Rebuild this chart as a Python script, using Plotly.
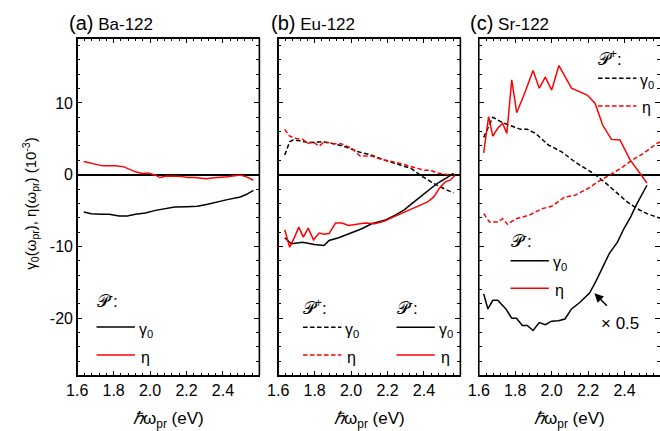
import plotly.graph_objects as go

# ---------------- data ----------------
# (a) Ba-122, P^- curves
ba_x_g = [1.636, 1.678, 1.73, 1.776, 1.83, 1.875, 1.92, 1.974, 2.03, 2.082, 2.135, 2.2, 2.26, 2.316, 2.388, 2.424, 2.495, 2.53, 2.567]
ba_g = [-5.2, -5.43, -5.52, -5.52, -5.76, -5.76, -5.52, -5.34, -4.97, -4.73, -4.5, -4.45, -4.4, -4.13, -3.66, -3.47, -3.1, -2.73, -2.17]
ba_x_e = [1.636, 1.686, 1.74, 1.81, 1.857, 1.92, 1.956, 1.99, 2.03, 2.055, 2.09, 2.154, 2.21, 2.244, 2.307, 2.352, 2.424, 2.495, 2.53, 2.567]
ba_e = [1.85, 1.57, 1.23, 1.23, 1.09, 0.4, 0.17, 0.25, -0.07, -0.4, -0.17, -0.2, -0.4, -0.4, -0.58, -0.44, -0.3, -0.03, -0.3, -0.77]

# (b) Eu-122
eu_x_gp = [1.636, 1.663, 1.681, 1.717, 1.77, 1.843, 1.897, 1.969, 2.04, 2.113, 2.184, 2.256, 2.33, 2.38, 2.454, 2.517, 2.562]
eu_gp = [2.73, 4.59, 4.83, 4.73, 4.45, 4.59, 4.36, 3.89, 3.19, 2.73, 2.03, 1.47, 0.87, -0.07, -1.23, -2.03, -2.54]
eu_x_ep = [1.636, 1.663, 1.699, 1.735, 1.762, 1.789, 1.825, 1.852, 1.897, 1.95, 2.005, 2.05, 2.113, 2.167, 2.256, 2.33, 2.4, 2.436, 2.47, 2.526, 2.562]
eu_ep = [6.32, 5.38, 5.06, 4.92, 4.36, 4.59, 3.99, 4.59, 4.36, 4.27, 3.66, 2.59, 2.59, 2.13, 1.65, 1.09, 0.63, 0.63, 0.25, 0.03, 0.07]
eu_x_gm = [1.636, 1.672, 1.735, 1.798, 1.852, 1.879, 1.932, 2.005, 2.059, 2.113, 2.184, 2.24, 2.292, 2.33, 2.4, 2.472, 2.526, 2.562]
eu_gm = [-8.78, -9.62, -9.4, -9.72, -9.86, -9.16, -8.78, -8.0, -7.53, -6.83, -6.36, -5.66, -4.9, -4.1, -2.73, -1.23, -0.4, 0.17]
eu_x_em = [1.636, 1.663, 1.69, 1.713, 1.738, 1.765, 1.794, 1.825, 1.852, 1.879, 1.915, 1.95, 1.986, 2.04, 2.077, 2.13, 2.184, 2.24, 2.292, 2.36, 2.42, 2.454, 2.49, 2.517, 2.544, 2.571]
eu_em = [-7.67, -10.1, -8.7, -7.3, -8.7, -7.44, -9.07, -8.14, -8.3, -8.2, -6.74, -6.74, -7.06, -6.92, -6.74, -6.83, -6.46, -5.8, -5.2, -4.5, -3.8, -3.1, -1.7, -1.0, -0.77, -0.07]

# (c) Sr-122
sr_x_gp = [1.627, 1.677, 1.731, 1.785, 1.83, 1.866, 1.911, 1.983, 2.055, 2.127, 2.199, 2.235, 2.289, 2.361, 2.415, 2.469, 2.523, 2.577, 2.6]
sr_gp = [5.2, 8.0, 7.24, 6.78, 6.32, 6.32, 5.76, 4.13, 3.19, 1.79, 0.63, 0.07, -1.0, -2.63, -3.8, -4.73, -5.43, -5.9, -6.1]
sr_x_ep = [1.627, 1.659, 1.704, 1.731, 1.758, 1.803, 1.875, 1.947, 2.0, 2.073, 2.127, 2.199, 2.253, 2.307, 2.379, 2.442, 2.505, 2.577, 2.6]
sr_ep = [-5.43, -6.6, -6.6, -6.13, -6.92, -6.13, -5.66, -4.73, -4.4, -3.1, -2.87, -1.93, -1.0, -0.17, 0.87, 2.03, 2.97, 4.36, 4.59]
sr_x_gm = [1.627, 1.65, 1.677, 1.704, 1.749, 1.781, 1.807, 1.839, 1.866, 1.898, 1.932, 1.965, 2.0, 2.037, 2.073, 2.109, 2.154, 2.208, 2.244, 2.28, 2.316, 2.361, 2.397, 2.433, 2.469, 2.523]
sr_gm = [-16.6, -18.7, -17.5, -17.5, -18.7, -20.0, -20.0, -21.0, -21.0, -21.7, -20.6, -20.9, -20.4, -20.35, -20.1, -18.7, -17.8, -16.5, -14.8, -12.9, -11.0, -9.4, -7.5, -5.9, -4.0, -1.47]
sr_x_em = [1.627, 1.654, 1.677, 1.704, 1.731, 1.754, 1.781, 1.808, 1.848, 1.898, 1.932, 1.965, 2.0, 2.04, 2.109, 2.195, 2.238, 2.28, 2.328, 2.375, 2.429, 2.487, 2.523]
sr_em = [3.05, 8.08, 5.38, 6.46, 7.16, 5.76, 13.2, 8.64, 11.1, 14.5, 12.05, 13.6, 11.8, 15.2, 12.05, 11.1, 9.96, 6.92, 4.92, 4.83, 2.13, 0.17, -1.15]

panel_titles = ["(a)", "(b)", "(c)"]
panel_names = ["Ba-122", "Eu-122", "Sr-122"]
x_tickvals = [1.6, 1.8, 2.0, 2.2, 2.4, 2.6]
x_ticktext = ["1.6", "1.8", "2.0", "2.2", "2.4", ""]
y_tickvals = [-20, -10, 0, 10]
y_ticktext = ["-20", "-10", "0", "10"]

# ---------------- layout helpers ----------------
W, H = 660, 431
FONT = "Arial, Liberation Sans, sans-serif"
PSCRIPT = "\U0001D4AB"


def px(xp):
    return xp / W


def py(yp):
    return 1 - yp / H


BLACK = "#000000"
RED = "#ff0000"
DASH = "4.5px,2.5px"
LW = 1.5

fig = go.Figure()


def add(x, y, color, dash, ax):
    fig.add_trace(go.Scatter(
        x=x, y=y, mode="lines",
        line=dict(color=color, width=LW, dash=dash),
        xaxis="x" + ax, yaxis="y" + ax, showlegend=False, hoverinfo="skip"))


add(ba_x_g, ba_g, BLACK, "solid", "")
add(ba_x_e, ba_e, RED, "solid", "")
add(eu_x_gp, eu_gp, BLACK, DASH, "2")
add(eu_x_ep, eu_ep, RED, DASH, "2")
add(eu_x_gm, eu_gm, BLACK, "solid", "2")
add(eu_x_em, eu_em, RED, "solid", "2")
add(sr_x_gp, sr_gp, BLACK, DASH, "3")
add(sr_x_ep, sr_ep, RED, DASH, "3")
add(sr_x_gm, sr_gm, BLACK, "solid", "3")
add(sr_x_em, sr_em, RED, "solid", "3")
# empty trace to activate the right-hand tick axis of panel (c)
fig.add_trace(go.Scatter(x=[], y=[], xaxis="x3", yaxis="y4", showlegend=False))

x_left = [67.3, 271.7, 475.7]
PLOT_W = 185.3
y_top, y_bot = 38.3, 375.7
ydom = [1 - y_bot / H, 1 - y_top / H]
YR = [-28, 19]

TW = 1
MAJ, MIN = 5, 3
tickfont = dict(family=FONT, size=16, color="black")
layout = dict(
    width=W, height=H, margin=dict(l=0, r=0, t=0, b=0),
    paper_bgcolor="white", plot_bgcolor="white", showlegend=False,
)
for i in range(3):
    sfx = "" if i == 0 else str(i + 1)
    x0 = x_left[i]
    x1 = min(x0 + PLOT_W, W)
    xr = [1.6, 1.6 + (x1 - x0) / PLOT_W]
    layout["xaxis" + sfx] = dict(
        domain=[px(x0), px(x1)], range=xr, anchor="y" + sfx,
        tickmode="array", tickvals=x_tickvals, ticktext=x_ticktext,
        ticks="inside", ticklen=MAJ, tickwidth=TW, tickcolor="black",
        minor=dict(dtick=0.04, tick0=1.6, ticks="inside", ticklen=MIN, tickwidth=TW, tickcolor="black"),
        showline=True, linecolor="black", linewidth=1, mirror="ticks",
        showgrid=False, zeroline=False, tickfont=tickfont,
    )
    layout["yaxis" + sfx] = dict(
        domain=ydom, range=YR, anchor="x" + sfx,
        tickmode="array", tickvals=y_tickvals, ticktext=y_ticktext,
        ticks="inside", ticklen=MAJ, tickwidth=TW, tickcolor="black",
        minor=dict(dtick=2, tick0=0, ticks="inside", ticklen=MIN, tickwidth=TW, tickcolor="black"),
        showline=True, linecolor="black", linewidth=1,
        mirror=("ticks" if i < 2 else False),
        showgrid=False, zeroline=True, zerolinecolor="black", zerolinewidth=1.5,
        showticklabels=(i == 0), tickfont=tickfont,
    )
layout["yaxis4"] = dict(
    overlaying="y3", anchor="x3", side="right", range=YR,
    tickmode="array", tickvals=y_tickvals, ticks="inside", ticklen=MAJ, tickwidth=TW, tickcolor="black",
    minor=dict(dtick=2, tick0=0, ticks="inside", ticklen=MIN, tickwidth=TW, tickcolor="black"),
    showline=False, showgrid=False, zeroline=False, showticklabels=False,
)
fig.update_layout(**layout)

ann = []
shapes = []

# thicker panel frames (decoration on top of the axis lines)
FR = 1.6
for i, sfx in enumerate(["", "2", "3"]):
    xr_ = "x%s domain" % sfx
    yr_ = "y%s domain" % sfx
    sides = [(0, 0, 0, 1), (0, 1, 1, 1), (0, 0, 1, 0)]
    if i < 2:
        sides.append((1, 0, 1, 1))
    for (a0, b0, a1, b1) in sides:
        shapes.append(dict(type="line", xref=xr_, yref=yr_, x0=a0, y0=b0, x1=a1, y1=b1,
                           line=dict(color="black", width=FR)))


def text(xp, yp, s, size=16, anchor="left", **kw):
    ann.append(dict(x=px(xp), y=py(yp), xref="paper", yref="paper", text=s, showarrow=False,
                    xanchor=anchor, yanchor="middle", font=dict(family=FONT, size=size, color="black"), **kw))


def seg(xa, xb, yp, color, dash):
    shapes.append(dict(type="line", xref="paper", yref="paper", x0=px(xa), x1=px(xb), y0=py(yp), y1=py(yp),
                       line=dict(color=color, width=LW, dash=dash)))


# panel titles
title_x = [57, 262.7, 465]
for i in range(3):
    text(title_x[i], 23, "<span style='font-size:20px'>%s</span> %s" % (panel_titles[i], panel_names[i]), size=17)

# axis titles
for i in range(3):
    text(x_left[i] + 185.3 / 2, 420, "<i>\u210f</i>\u03c9<sub>pr</sub> (eV)", size=17, anchor="center")
text(20, 204, "\u03b3<sub>0</sub>(\u03c9<sub>pr</sub>), \u03b7(\u03c9<sub>pr</sub>) (10<sup>-3</sup>)", size=15,
     anchor="center", textangle=-90)

G0 = "\u03b3<sub>0</sub>"
ETA = "\u03b7"


def legend(xl, ytitle, y1, y2, sign, dash):
    text(xl - 2, ytitle, PSCRIPT + "<sup>%s</sup>:" % sign, size=17)
    seg(xl, xl + 39, y1, BLACK, dash)
    seg(xl, xl + 39, y2, RED, dash)
    text(xl + 41, y1 + 3, G0, size=16)
    text(xl + 43, y2 + 2, ETA, size=16)


legend(87, 300, 327, 355, "-", "solid")
legend(297, 307, 327.3, 355, "+", DASH)
legend(392, 307, 327.3, 355, "-", "solid")
legend(597, 58, 78.3, 106, "+", DASH)
legend(508, 240, 260.7, 288.3, "-", "solid")

# x0.5 arrow
ann.append(dict(x=px(593.3), y=py(293.3), xref="paper", yref="paper", text="", showarrow=True,
                ax=14, ay=14, arrowhead=2, arrowsize=1.2, arrowwidth=1.5, arrowcolor="black"))
text(598, 323, "\u00d7 0.5", size=17)

fig.update_layout(annotations=ann, shapes=shapes)
fig.write_html("out.html")
